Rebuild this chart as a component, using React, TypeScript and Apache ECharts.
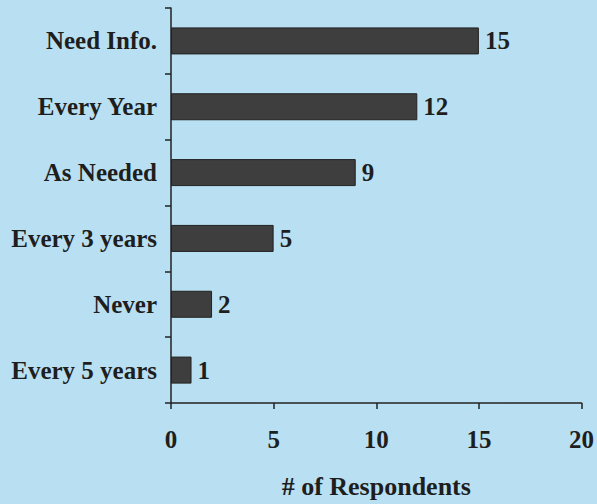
import React, { useEffect, useRef } from "react";
import * as echarts from "echarts";

const categories = ["Need Info.", "Every Year", "As Needed", "Every 3 years", "Never", "Every 5 years"];
const respondents = [15, 12, 9, 5, 2, 1];
const xTicks = [0, 5, 10, 15, 20];

const FONT = "'Liberation Serif', 'Times New Roman', serif";
const TEXT = "#1e1e1e";

export default function App() {
  const ref = useRef<HTMLDivElement>(null);
  useEffect(() => {
    document.body.style.margin = "0";
    const chart = echarts.init(ref.current!, null, { renderer: "svg" });
    chart.setOption({
      animation: false,
      backgroundColor: "#b9e0f2",
      grid: { left: 171, right: 14, top: 8, bottom: 93, containLabel: false },
      xAxis: {
        type: "value",
        min: xTicks[0],
        max: xTicks[xTicks.length - 1],
        interval: 5,
        name: "# of Respondents",
        nameLocation: "middle",
        nameGap: 70,
        nameTextStyle: { fontFamily: FONT, fontWeight: "bold", fontSize: 26, color: TEXT },
        axisLine: { show: true, lineStyle: { color: "#222", width: 1.5 } },
        axisTick: { show: true, length: 6, lineStyle: { color: "#222", width: 1.5 } },
        splitLine: { show: false },
        axisLabel: { margin: 24, fontFamily: FONT, fontWeight: "bold", fontSize: 25, color: TEXT },
      },
      yAxis: {
        type: "category",
        data: categories,
        inverse: true,
        axisLine: { show: true, lineStyle: { color: "#222", width: 1.5 } },
        axisTick: { show: true, length: 6, lineStyle: { color: "#222", width: 1.5 } },
        axisLabel: { margin: 14, fontFamily: FONT, fontWeight: "bold", fontSize: 25, color: TEXT },
      },
      series: [
        {
          type: "bar",
          data: respondents,
          barWidth: 27,
          itemStyle: { color: "#3e3e3e", borderColor: "#222", borderWidth: 1 },
          label: {
            show: true,
            position: "right",
            distance: 6,
            fontFamily: FONT,
            fontWeight: "bold",
            fontSize: 25,
            color: TEXT,
          },
        },
      ],
    });
    return () => chart.dispose();
  }, []);
  return <div ref={ref} style={{ width: 597, height: 504 }} />;
}
